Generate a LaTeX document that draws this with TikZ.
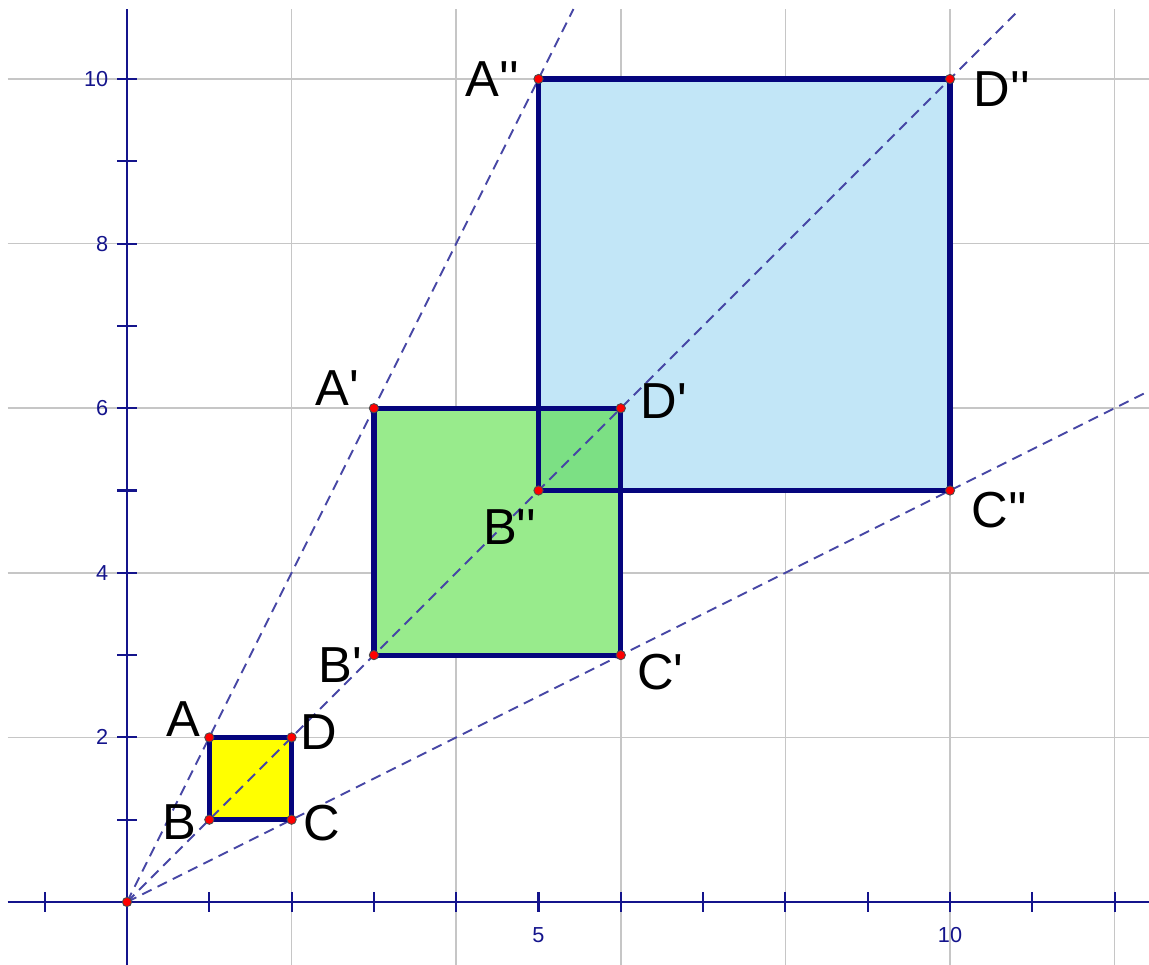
\documentclass[tikz,border=0pt]{standalone}
\usepackage{fontspec}
\newfontfamily\lab{Liberation Sans}
\begin{document}
\begin{tikzpicture}[x=1cm,y=1cm,
  gridline/.style={draw=gray!45, line width=0.6pt},
  axisline/.style={draw=axiscol, line width=0.75pt},
  ticks/.style={draw=axiscol, line width=0.75pt},
  ray/.style={draw=raycol, line width=0.65pt, dash pattern=on 3.6pt off 2.3pt},
  sqedge/.style={draw=edgecol, line width=1.8pt, line join=miter},
  pt/.style={circle, fill=red, draw=black!70, line width=0.3pt, inner sep=0pt, minimum size=3.2pt},
  ptlab/.style={font=\lab\fontsize{17.5}{20}\selectfont, inner sep=0pt},
  axlab/.style={font=\lab\fontsize{7.5}{9}\selectfont, text=axiscol, inner sep=0pt}
]
\definecolor{axiscol}{RGB}{20,20,140}
\definecolor{raycol}{RGB}{70,70,165}
\definecolor{edgecol}{RGB}{5,5,125}
\definecolor{yel}{RGB}{255,255,0}
\definecolor{grn}{RGB}{152,235,140}
\definecolor{blu}{RGB}{194,230,247}
\definecolor{ovl}{RGB}{124,224,132}
\useasboundingbox (-1.543,-0.765) rectangle (12.418,10.960);
% grid
\foreach \x in {2,4,...,12} \draw[gridline] (\x,-0.765) -- (\x,10.85);
\foreach \y in {2,4,...,10} \draw[gridline] (-1.45,\y) -- (12.418,\y);
% fills
\fill[yel] (1,1) rectangle (2,2);
\fill[grn] (3,3) rectangle (6,6);
\fill[blu] (5,5) rectangle (10,10);
\fill[ovl] (5,5) rectangle (6,6);
% axes
\draw[axisline] (-1.45,0) -- (12.418,0);
\draw[axisline] (0,-0.765) -- (0,10.85);
\foreach \x in {-1,1,2,...,12} \draw[ticks] (\x,-0.12) -- (\x,0.12);
\foreach \y in {1,2,...,10} \draw[ticks] (-0.12,\y) -- (0.12,\y);
\node[axlab] (x5) at (5,-0.4) {5};
\node[axlab] (x10) at (10,-0.4) {10};
\foreach \y in {2,4,6,8,10} \node[axlab, anchor=east] (y\y) at (-0.22,\y) {\y};
% points
\coordinate (O) at (0,0);
\coordinate (A) at (1,2); \coordinate (B) at (1,1); \coordinate (C) at (2,1); \coordinate (D) at (2,2);
\coordinate (A1) at (3,6); \coordinate (B1) at (3,3); \coordinate (C1) at (6,3); \coordinate (D1) at (6,6);
\coordinate (A2) at (5,10); \coordinate (B2) at (5,5); \coordinate (C2) at (10,5); \coordinate (D2) at (10,10);
\coordinate (E1) at (5.425,10.85);
\coordinate (E2) at (10.85,10.85);
\coordinate (E3) at (12.418,6.209);
% rays
\draw[ray] (O) -- (E1);
\draw[ray] (O) -- (E2);
\draw[ray] (O) -- (E3);
% square edges
\draw[sqedge] (A) -- (B) -- (C) -- (D) -- cycle;
\draw[sqedge] (A1) -- (B1) -- (C1) -- (D1) -- cycle;
\draw[sqedge] (A2) -- (B2) -- (C2) -- (D2) -- cycle;
% dots
\foreach \p in {O,A,B,C,D,A1,B1,C1,D1,A2,B2,C2,D2} \node[pt] (d\p) at (\p) {};
% labels
\node[ptlab] (lA) at (0.68,2.22) {A};
\node[ptlab] (lB) at (0.64,0.97) {B};
\node[ptlab] (lC) at (2.37,0.96) {C};
\node[ptlab] (lD) at (2.33,2.07) {D};
\node[ptlab] (lA1) at (2.56,6.24) {A'};
\node[ptlab] (lB1) at (2.59,2.88) {B'};
\node[ptlab] (lC1) at (6.48,2.79) {C'};
\node[ptlab] (lD1) at (6.52,6.09) {D'};
\node[ptlab] (lA2) at (4.44,10.0) {A''};
\node[ptlab] (lB2) at (4.65,4.56) {B''};
\node[ptlab] (lC2) at (10.6,4.76) {C''};
\node[ptlab] (lD2) at (10.63,9.88) {D''};
\end{tikzpicture}
\end{document}
